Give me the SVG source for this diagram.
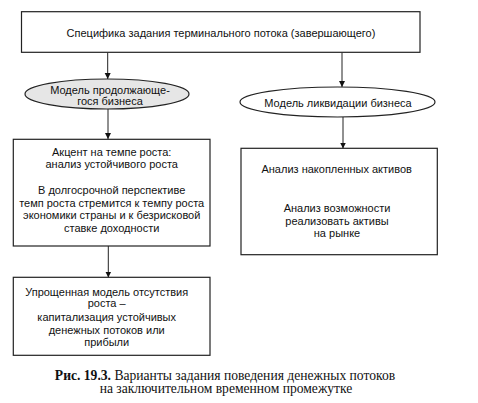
<svg xmlns="http://www.w3.org/2000/svg" width="478" height="403" viewBox="0 0 478 403">
<style>
.box{fill:#fff;stroke:#222;stroke-width:1.2}
.ell{stroke:#222;stroke-width:1.2}
.t{font-family:"Liberation Sans Narrow","Liberation Sans",Arial,sans-serif;font-size:11px;fill:#111;text-anchor:middle}
.c{font-family:"Liberation Serif","Times New Roman",serif;font-size:13.6px;fill:#111;text-anchor:middle}
.ln{stroke:#222;stroke-width:1;fill:none}
</style>
<defs>
<marker id="ah" viewBox="0 0 6 8" refX="6" refY="4" markerWidth="6" markerHeight="8" markerUnits="userSpaceOnUse" orient="auto">
<path d="M0,1 L6,4 L0,7 Z" fill="#111"/>
</marker>
</defs>
<g id="connectors">
<line class="ln" x1="107.7" y1="52.5" x2="107.7" y2="79" marker-end="url(#ah)"/>
<line class="ln" x1="342" y1="52.5" x2="342" y2="87" marker-end="url(#ah)"/>
<line class="ln" x1="108" y1="109" x2="108" y2="139" marker-end="url(#ah)"/>
<line class="ln" x1="343" y1="117" x2="343" y2="148.5" marker-end="url(#ah)"/>
<line class="ln" x1="108.3" y1="246" x2="108.3" y2="277.5" marker-end="url(#ah)"/>
</g>
<g id="top">
<rect class="box" x="21.5" y="11.7" width="398.5" height="40.6"/>
<text class="t" x="221" y="36.5">Специфика задания терминального потока (завершающего)</text>
</g>
<g id="cont">
<ellipse class="ell" cx="107" cy="94" rx="82" ry="15" fill="#e6e6e6"/>
<text class="t" x="110" y="93.5">Модель продолжающе-</text>
<text class="t" x="110" y="105">гося бизнеса</text>
</g>
<g id="liq">
<ellipse class="ell" cx="337.5" cy="102" rx="97.5" ry="15" fill="#fff"/>
<text class="t" x="338" y="107">Модель ликвидации бизнеса</text>
</g>
<g id="growth">
<rect class="box" x="13.3" y="139.3" width="196.7" height="106.7"/>
<text class="t" x="111.7" y="155.7">Акцент на темпе роста:</text>
<text class="t" x="111.7" y="168.3">анализ устойчивого  роста</text>
<text class="t" x="111.7" y="194">В долгосрочной перспективе</text>
<text class="t" x="111.7" y="206.7">темп роста стремится к темпу роста</text>
<text class="t" x="111.7" y="219">экономики страны и к безрисковой</text>
<text class="t" x="111.7" y="231.7">ставке доходности</text>
</g>
<g id="assets">
<rect class="box" x="241" y="148.3" width="196.3" height="106.4"/>
<text class="t" x="336.7" y="173">Анализ накопленных активов</text>
<text class="t" x="337" y="212.3">Анализ возможности</text>
<text class="t" x="337" y="224.7">реализовать активы</text>
<text class="t" x="337" y="237.3">на рынке</text>
</g>
<g id="nogrowth">
<rect class="box" x="13.3" y="277.3" width="196.7" height="78"/>
<text class="t" x="106.7" y="295.7">Упрощенная модель отсутствия</text>
<text class="t" x="106.7" y="307.3">роста –</text>
<text class="t" x="106.7" y="320.7">капитализация устойчивых</text>
<text class="t" x="106.7" y="334">денежных потоков или</text>
<text class="t" x="106.7" y="345.7">прибыли</text>
</g>
<g id="caption">
<text class="c" x="225" y="379.5"><tspan font-weight="bold">Рис. 19.3.</tspan> Варианты задания поведения денежных потоков</text>
<text class="c" x="226" y="393">на заключительном временном промежутке</text>
</g>
</svg>
